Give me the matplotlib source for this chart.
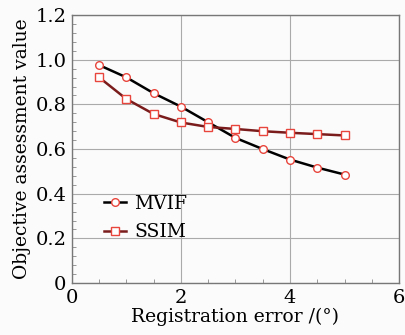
import matplotlib
matplotlib.use('Agg')
import matplotlib.pyplot as plt
from matplotlib.ticker import MultipleLocator

errors = [0.5, 1.0, 1.5, 2.0, 2.5, 3.0, 3.5, 4.0, 4.5, 5.0]
mvif = [0.976, 0.921, 0.850, 0.790, 0.720, 0.650, 0.600, 0.553, 0.517, 0.486]
ssim = [0.921, 0.824, 0.757, 0.719, 0.699, 0.690, 0.680, 0.673, 0.667, 0.661]
yticks = [0, 0.2, 0.4, 0.6, 0.8, 1.0, 1.2]
ytick_labels = ['0', '0.2', '0.4', '0.6', '0.8', '1.0', '1.2']

plt.rcParams['font.family'] = ['DejaVu Serif']

fig = plt.figure(figsize=(4.06, 3.35), dpi=100)
fig.patch.set_facecolor('#fbfbfb')
ax = fig.add_axes([0.177, 0.155, 0.806, 0.80])
ax.set_facecolor('#fbfbfb')

ax.plot(errors, mvif, '-o', color='black', lw=1.8, ms=5.5,
        mfc='white', mec='#e8453c', mew=1.0, label='MVIF')
ax.plot(errors, ssim, '-s', color='#7b1c1c', lw=1.8, ms=5.5,
        mfc='white', mec='#e8453c', mew=1.0, label='SSIM')

ax.set_xlim(0, 6)
ax.set_ylim(0, 1.2)
ax.set_xticks([0, 2, 4, 6])
ax.set_xticklabels(['0', '2', '4', '6'])
ax.xaxis.set_minor_locator(MultipleLocator(0.5))
ax.set_yticks(yticks)
ax.set_yticklabels(ytick_labels)
ax.yaxis.set_minor_locator(MultipleLocator(0.04))
ax.tick_params(which='both', direction='in', top=False, right=False,
               labelsize=14, color='#888888')
ax.tick_params(which='major', length=0, pad=4)
ax.tick_params(which='minor', length=3)
ax.grid(True, which='major', color='#aaaaaa', lw=0.8)
for s in ax.spines.values():
    s.set_color('#777777')
    s.set_linewidth(1.0)

ax.set_xlabel('Registration error /(°)', fontsize=13.5, labelpad=1)
ax.set_ylabel('Objective assessment value', fontsize=13.5, labelpad=3)

ax.legend(loc='center left', bbox_to_anchor=(0.098, 0.243), frameon=False,
          fontsize=13.5, handlelength=1.2, handletextpad=0.4,
          labelspacing=0.55, borderaxespad=0.0, borderpad=0.0)

fig.savefig('out.png', dpi=100, facecolor=fig.get_facecolor())
